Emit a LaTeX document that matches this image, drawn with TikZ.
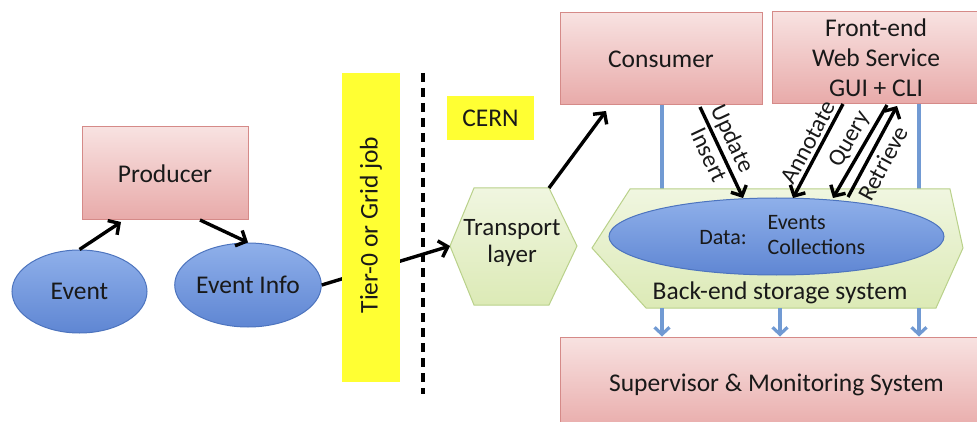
\documentclass[tikz,border=0pt]{standalone}
\usepackage{fontspec}
\setmainfont{Carlito}
\usetikzlibrary{arrows.meta,shapes.geometric}
\definecolor{pinktop}{HTML}{F8E2E1}
\definecolor{pinkbot}{HTML}{E8AAA9}
\definecolor{pinkedge}{HTML}{D58A88}
\definecolor{bluetop}{HTML}{8FB0EA}
\definecolor{bluebot}{HTML}{5F86D3}
\definecolor{blueedge}{HTML}{4D74BE}
\definecolor{greentop}{HTML}{F0F6E0}
\definecolor{greenbot}{HTML}{DCEAB6}
\definecolor{greenedge}{HTML}{B9D18A}
\definecolor{ylw}{HTML}{FFFF33}
\definecolor{bline}{HTML}{719AD3}
\begin{document}
\begin{tikzpicture}[x=1pt,y=-1pt,
  txt/.style={font=\fontsize{25.5}{30}\selectfont, text=black!90},
  small/.style={font=\fontsize{22}{25}\selectfont, text=black!90},
  lbl/.style={font=\fontsize{24}{25}\selectfont, text=black!90, sloped, inner sep=3pt},
  pinkbox/.style={draw=pinkedge, line width=1pt, top color=pinktop, bottom color=pinkbot, inner sep=0pt, txt, align=center},
  blueell/.style={ellipse, draw=blueedge, line width=1pt, top color=bluetop, bottom color=bluebot, inner sep=0pt, txt},
  greenhex/.style={draw=greenedge, line width=1pt, top color=greentop, bottom color=greenbot},
  ybox/.style={fill=ylw, draw=none, inner sep=0pt, txt},
  flow/.style={line width=3.4pt, black, -{Straight Barb[length=8pt,width=17pt]}},
  bluearr/.style={line width=3.2pt, bline, -{Straight Barb[length=7pt,width=15pt]}},
  blueline/.style={line width=3.2pt, bline}
]
\useasboundingbox (0,0) rectangle (977,422);

% left part
\node[pinkbox, minimum width=166pt, minimum height=93pt] (prod) at (165,173.5) {Producer};
\node[blueell, minimum width=135pt, minimum height=83pt] (ev) at (79.5,291.5) {Event};
\node[blueell, minimum width=134pt, minimum height=84pt] (ei) at (248,285) {Event Info};

% transport hexagon
\coordinate (tpw) at (450,246);
\coordinate (tpnw) at (474,188);
\coordinate (tpne) at (549,188);
\coordinate (tpe) at (577,246);
\coordinate (tpse) at (549,305);
\coordinate (tpsw) at (474,305);
\draw[greenhex] (tpw) -- (tpnw) -- (tpne) -- (tpe) -- (tpse) -- (tpsw) -- cycle;
\node[txt, align=center, font=\fontsize{25}{27}\selectfont] (tp) at (512,243) {Transport\\layer};

\draw[flow] (ei.east) -- (tpw);
\node[ybox, minimum width=58pt, minimum height=309pt] (tier) at (371,227.5) {};
\node[txt, rotate=90] (tiertxt) at (371,225) {Tier-0 or Grid job};
\coordinate (dtop) at (423,73);
\coordinate (dbot) at (423,394);
\draw[line width=3.2pt, dash pattern=on 9pt off 6pt] (dtop) -- (dbot);
\node[ybox, minimum width=87pt, minimum height=44pt] (cern) at (490.5,118) {CERN};

% right boxes
\node[pinkbox, minimum width=202pt, minimum height=92pt] (cons) at (661,59) {Consumer};
\node[pinkbox, minimum width=208pt, minimum height=92pt] (fe) at (876,58) {Front-end\\Web Service\\GUI + CLI};
\node[pinkbox, minimum width=433pt, minimum height=95pt] (sup) at (776.5,384.5) {Supervisor \& Monitoring System};

% blue lines behind backend
\coordinate (b1t) at (662,105);
\coordinate (b1b) at (662,190);
\coordinate (b3t) at (919,104);
\coordinate (b3b) at (919,190);
\draw[blueline] (b1t) -- (b1b);
\draw[blueline] (b3t) -- (b3b);

% backend hexagon
\coordinate (bew) at (592,248);
\coordinate (benw) at (630,189);
\coordinate (bene) at (950,189);
\coordinate (bee) at (963,248);
\coordinate (bese) at (936,308);
\coordinate (besw) at (646,308);
\draw[greenhex] (bew) -- (benw) -- (bene) -- (bee) -- (bese) -- (besw) -- cycle;
\node[blueell, minimum width=335pt, minimum height=77pt] (data) at (776.5,236.5) {};
\node[small] (datalbl) at (723,238) {Data:};
\node[small, anchor=west, align=left] (datatxt) at (764,235) {Events\\Collections};
\node[txt] (betxt) at (780,293) {Back-end storage system};

% blue arrows to supervisor
\coordinate (a1) at (662,308);
\coordinate (a2) at (780,308);
\coordinate (a3) at (919,308);
\draw[bluearr] (a1) -- (a1 |- sup.north);
\draw[bluearr] (a2) -- (a2 |- sup.north);
\draw[bluearr] (a3) -- (a3 |- sup.north);

% black flows
\coordinate (pin) at (121,222);
\coordinate (pout) at (200,220);
\draw[flow] (ev.north) -- (pin);
\draw[flow] (pout) -- (ei.north);
\coordinate (consin) at (606,111);
\draw[flow] (tpne) -- (consin);

\coordinate (u1) at (700,107);
\coordinate (u2) at (743,198);
\draw[flow] (u1) -- (u2)
  node[pos=0.42, above, lbl] (updlbl) {Update}
  node[pos=0.47, below, lbl] (inslbl) {Insert};
\coordinate (an1) at (843,104);
\coordinate (an2) at (793,198);
\draw[flow] (an1) -- (an2)
  node[pos=0.47, above, lbl] (anlbl) {Annotate};
\coordinate (q1) at (887,105);
\coordinate (q2) at (833,198);
\draw[flow] (q1) -- (q2)
  node[pos=0.45, above, lbl] (qlbl) {Query};
\coordinate (r1) at (848,197);
\coordinate (r2) at (897,106);
\draw[flow] (r1) -- (r2)
  node[pos=0.45, below, lbl, inner sep=5pt] (rlbl) {Retrieve};
\end{tikzpicture}
\end{document}
